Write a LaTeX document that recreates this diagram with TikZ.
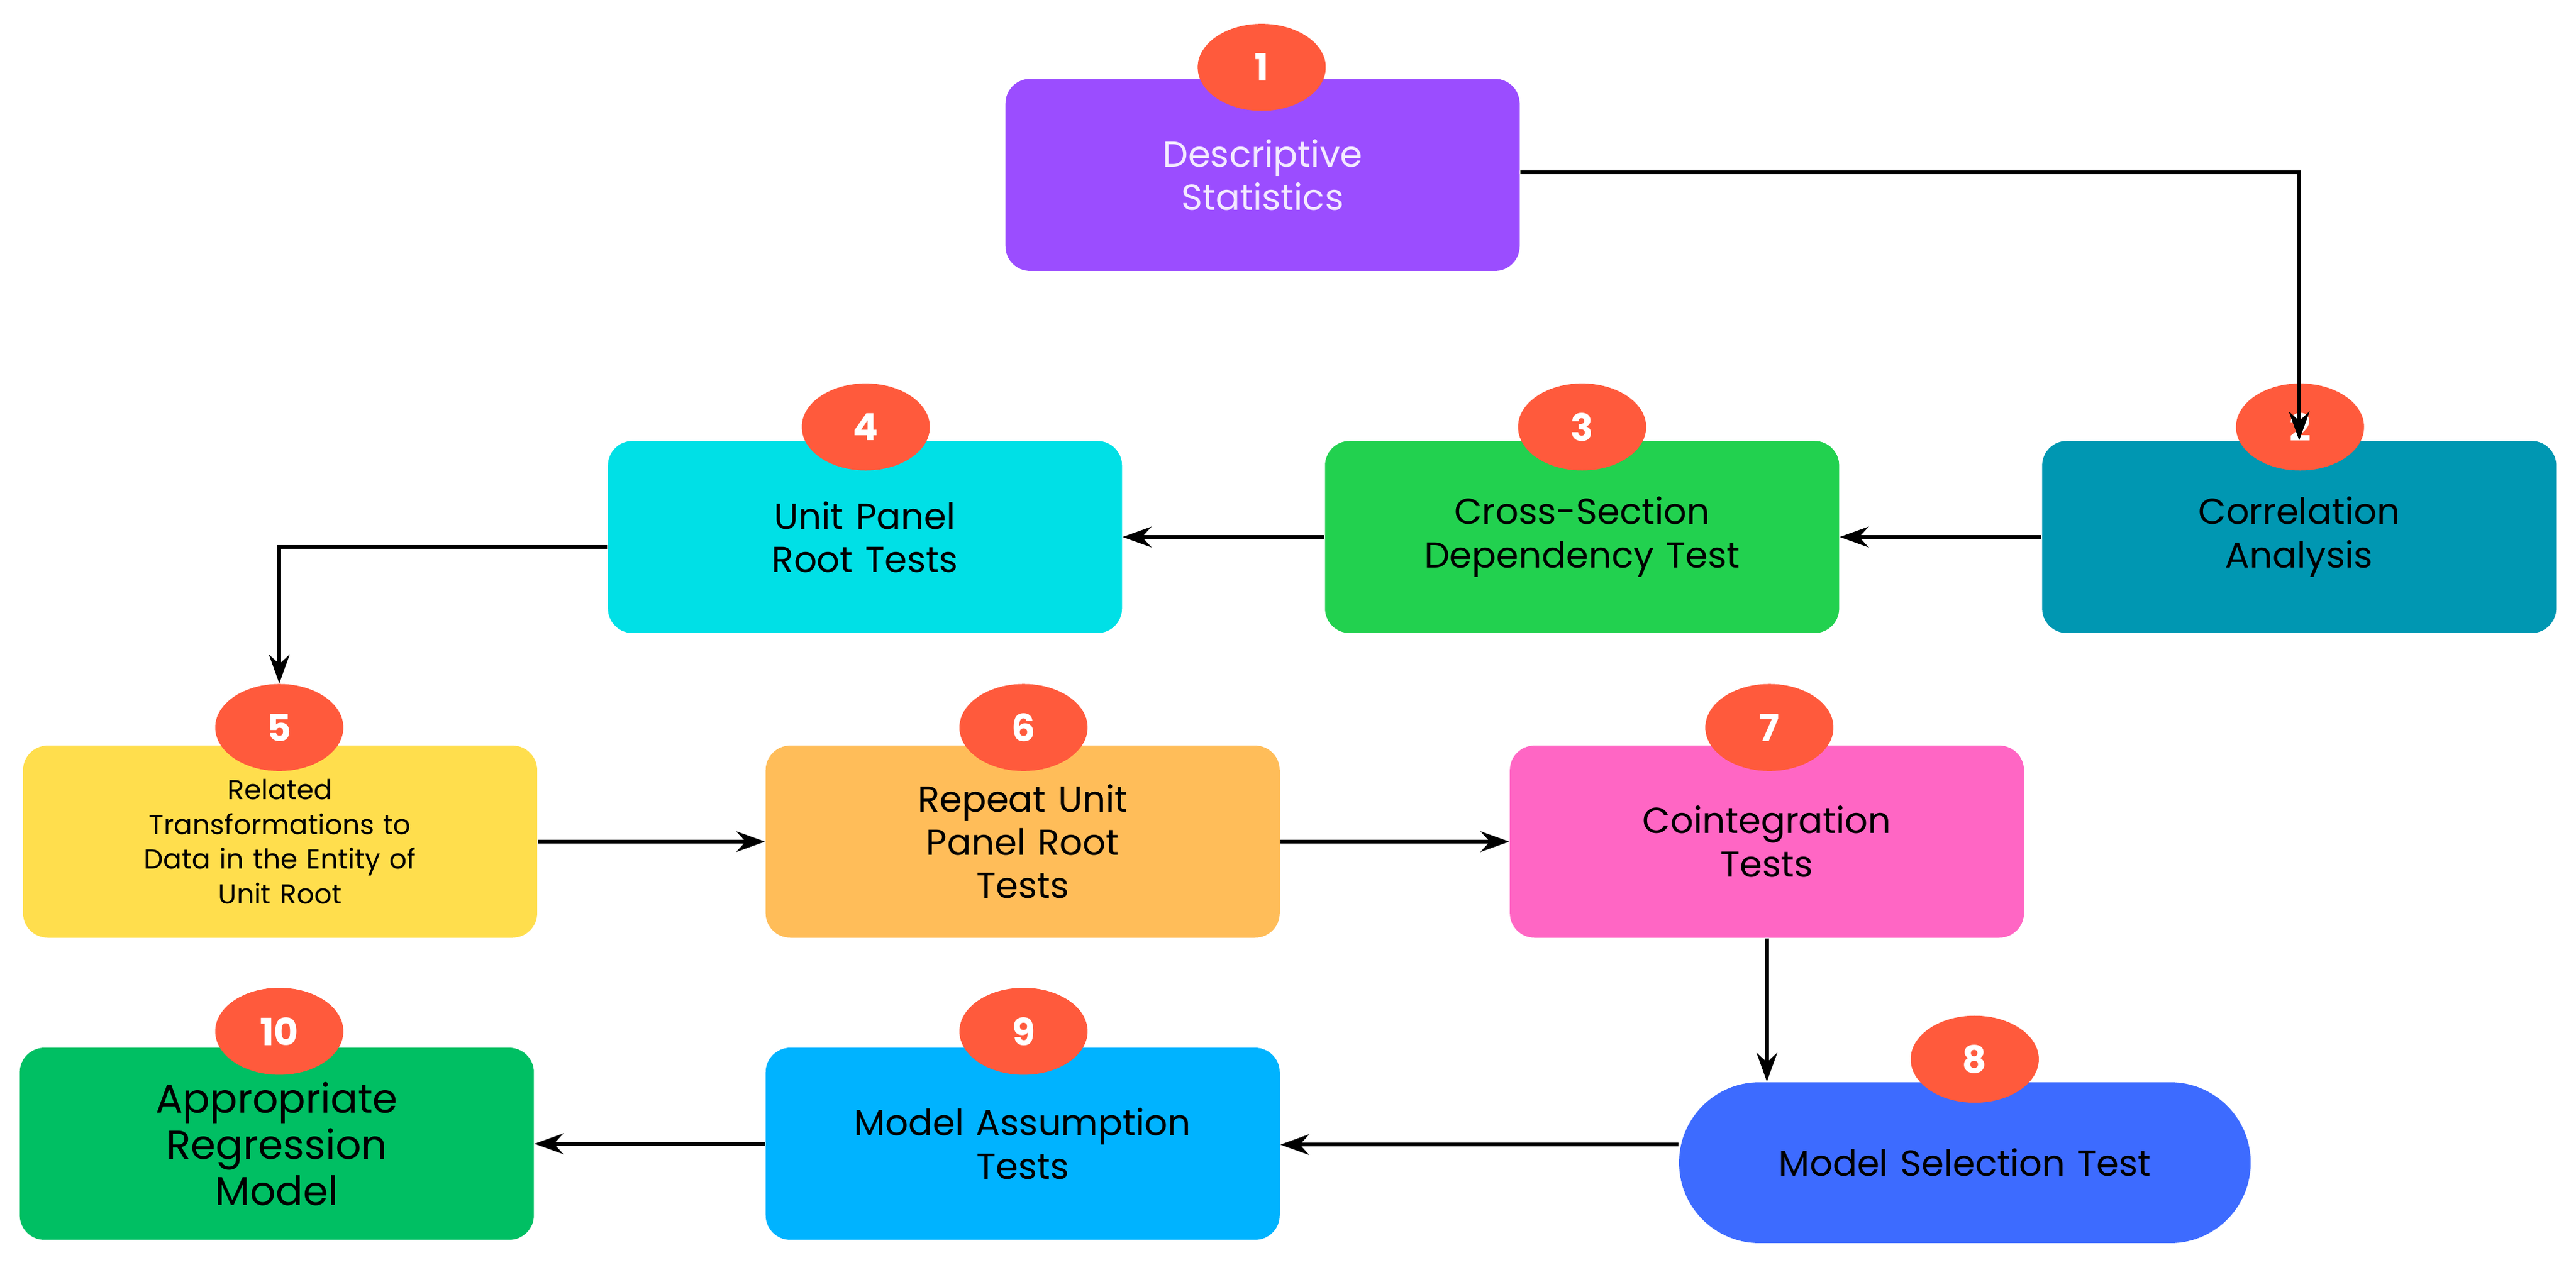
\documentclass[tikz,border=0pt]{standalone}
\usepackage{fontspec}
\setmainfont{Poppins}
\usetikzlibrary{arrows.meta,shapes.geometric}
\definecolor{c1}{HTML}{9B4DFF}\definecolor{c2}{HTML}{0097B2}\definecolor{c3}{HTML}{22D14F}
\definecolor{c4}{HTML}{00E0E6}\definecolor{c5}{HTML}{FFDE4D}\definecolor{c6}{HTML}{FFBD59}
\definecolor{c7}{HTML}{FF66C4}\definecolor{c8}{HTML}{3D6BFF}\definecolor{c9}{HTML}{00B3FF}
\definecolor{c10}{HTML}{00BF63}\definecolor{badgec}{HTML}{FF5A3C}
\begin{document}
\begin{tikzpicture}[x=0.02cm,y=-0.02cm,
 box/.style={rounded corners=0.3cm,minimum width=6.26cm,minimum height=2.34cm,align=center,font=\fontsize{12.5}{15}\selectfont,text width=5.6cm,inner sep=0pt},
 badge/.style={ellipse,fill=badgec,minimum width=1.56cm,minimum height=1.06cm,inner sep=0pt,text=white,font=\fontsize{13}{15}\selectfont\bfseries},
 arr/.style={-{Stealth[length=0.35cm,width=0.25cm]},line width=1.3pt}]
\useasboundingbox (0,0) rectangle (1568,770);
\node[box,fill=c1,text={white!88!c1}] (b1) at (768.5,106.5) {Descriptive\\Statistics};
\node[box,fill=c2] (b2) at (1399.5,327) {Correlation\\Analysis};
\node[box,fill=c3] (b3) at (963,327) {Cross-Section\\Dependency Test};
\node[box,fill=c4] (b4) at (526.5,327) {Unit Panel\\Root Tests};
\node[box,fill=c5,font=\fontsize{9.5}{12}\selectfont] (b5) at (170.5,512.5) {Related\\Transformations to\\Data in the Entity of\\Unit Root};
\node[box,fill=c6] (b6) at (622.5,512.5) {Repeat Unit\\Panel Root\\Tests};
\node[box,fill=c7] (b7) at (1075.5,512.5) {Cointegration\\Tests};
\node[box,fill=c8,rounded corners=0.98cm,minimum width=6.96cm,minimum height=1.96cm,text width=6.8cm] (b8) at (1196,708) {Model Selection Test};
\node[box,fill=c9] (b9) at (622.5,696.5) {Model Assumption\\Tests};
\node[box,fill=c10,font=\fontsize{14}{16}\selectfont] (b10) at (168.5,696.5) {Appropriate\\Regression\\Model};
\node[badge] (n1) at (768,41) {1};
\node[badge] (n2) at (1400,260) {2};
\node[badge] (n3) at (963,260) {3};
\node[badge] (n4) at (527,260) {4};
\node[badge] (n5) at (170,443) {5};
\node[badge] (n6) at (623,443) {6};
\node[badge] (n7) at (1077,443) {7};
\node[badge] (n8) at (1202,645) {8};
\node[badge] (n9) at (623,628) {9};
\node[badge] (n10) at (170,628) {10};
\draw[arr] (b1.east |- 0,105) -| (b2.north);
\draw[arr] (b2) -- (b3);
\draw[arr] (b3) -- (b4);
\draw[arr] (b4.west |- 0,333) -| (n5.north);
\draw[arr] (b5) -- (b6);
\draw[arr] (b6) -- (b7);
\draw[arr] (b7.south) -- (b7.south |- b8.north);
\draw[arr] (b8.west |- 0,697) -- (b9.east |- 0,697);
\draw[arr] (b9) -- (b10);
\end{tikzpicture}
\end{document}
